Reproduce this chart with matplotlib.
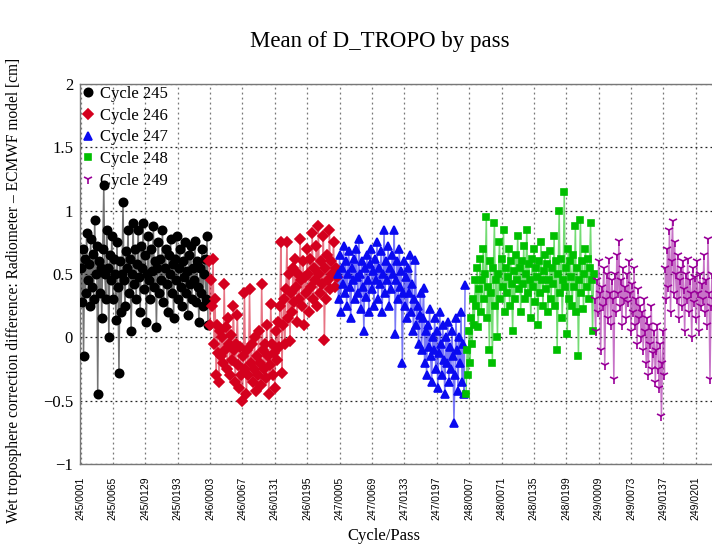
import numpy as np
import matplotlib
matplotlib.use("Agg")
import matplotlib.pyplot as plt
from matplotlib.lines import Line2D

# ---------------- data ----------------
cycles = ["Cycle 245", "Cycle 246", "Cycle 247", "Cycle 248", "Cycle 249"]
passes_per_cycle = 254
pass_step = 2

c245 = [0.55, 0.28, 0.7, -0.15, 0.62, 0.35, 0.82, 0.45, 0.58, 0.25, 0.78, 0.4, 0.66, 0.3, 0.93, 0.5,
        0.72, -0.45, 0.6, 0.35, 0.55, 0.15, 0.7, 1.2, 0.5, 0.3, 0.85, 0.55, 0.0, 0.65, 0.45, 0.8,
        0.3, 0.62, 0.5, 0.14, 0.75, 0.4, -0.28, 0.6, 0.2, 0.5, 1.07, 0.45, 0.25, 0.68, 0.55, 0.85,
        0.35, 0.62, 0.05, 0.5, 0.9, 0.42, 0.7, 0.3, 0.58, 0.85, 0.48, 0.2, 0.72, 0.55, 0.9, 0.38,
        0.65, 0.12, 0.5, 0.8, 0.45, 0.3, 0.7, 0.52, 0.88, 0.4, 0.6, 0.08, 0.55, 0.75, 0.35, 0.62,
        0.45, 0.85, 0.28, 0.55, 0.7, 0.42, 0.2, 0.65, 0.5, 0.78, 0.35, 0.58, 0.15, 0.62, 0.45, 0.8,
        0.3, 0.55, 0.7, 0.4, 0.25, 0.6, 0.48, 0.75, 0.35, 0.52, 0.18, 0.65, 0.42, 0.72, 0.3, 0.55,
        0.45, 0.76, 0.28, 0.6, 0.4, 0.12, 0.55, 0.35, 0.7, 0.25, 0.5, 0.62, 0.3, 0.8, 0.1]

c246 = [0.6, 0.1, 0.45, 0.25, 0.62, -0.05, 0.3, -0.3, 0.1, -0.12, -0.35, 0.05, -0.15, 0.0, -0.2, 0.42,
        -0.1, 0.08, -0.25, 0.15, -0.05, -0.3, 0.02, -0.18, 0.25, -0.1, -0.35, -0.05, 0.18, -0.22, -0.4, -0.08,
        -0.3, -0.5, -0.15, 0.35, -0.25, -0.45, -0.1, -0.3, 0.38, -0.2, -0.05, -0.35, -0.25, 0.0, -0.42, -0.15,
        -0.3, 0.05, -0.2, -0.38, 0.42, -0.1, -0.25, -0.05, -0.32, 0.1, -0.15, -0.45, -0.22, 0.26, -0.05, -0.3,
        -0.12, -0.4, 0.05, -0.18, 0.12, -0.08, 0.25, 0.75, -0.28, 0.1, 0.3, -0.05, 0.38, 0.75, 0.15, 0.5,
        -0.03, 0.35, 0.2, 0.55, 0.28, 0.62, 0.4, 0.12, 0.5, 0.3, 0.78, 0.45, 0.25, 0.6, 0.1, 0.48,
        0.35, 0.7, 0.5, 0.2, 0.62, 0.4, 0.82, 0.3, 0.55, 0.45, 0.72, 0.25, 0.88, 0.5, 0.35, 0.6,
        0.42, 0.8, -0.02, 0.55, 0.3, 0.65, 0.45, 0.85, 0.38, 0.6, 0.5, 0.75, 0.4, 0.55, 0.48]

c247 = [0.5, 0.3, 0.65, 0.2, 0.55, 0.42, 0.72, 0.35, 0.6, 0.25, 0.5, 0.68, 0.4, 0.15, 0.55, 0.45,
        0.62, 0.3, 0.7, 0.48, 0.35, 0.78, 0.5, 0.22, 0.6, 0.4, 0.05, 0.55, 0.32, 0.65, 0.45, 0.2,
        0.58, 0.7, 0.38, 0.52, 0.25, 0.62, 0.45, 0.75, 0.3, 0.55, 0.42, 0.68, 0.2, 0.5, 0.85, 0.35,
        0.6, 0.45, 0.72, 0.25, 0.55, 0.38, 0.65, 0.5, 0.85, 0.03, 0.45, 0.6, 0.3, 0.7, 0.4, 0.52,
        -0.2, 0.35, 0.6, 0.25, 0.48, 0.15, 0.55, 0.35, 0.65, 0.2, 0.42, 0.05, 0.3, 0.61, 0.1, 0.25,
        -0.05, 0.18, 0.35, -0.1, 0.15, 0.39, -0.2, 0.05, -0.3, 0.1, -0.08, 0.22, -0.15, -0.35, 0.0, -0.1,
        0.15, -0.25, 0.05, -0.4, -0.12, 0.2, -0.05, -0.3, 0.1, -0.18, -0.45, 0.0, -0.2, 0.12, -0.35, -0.08,
        -0.25, 0.05, -0.15, -0.68, -0.3, 0.15, -0.1, -0.42, 0.0, -0.2, 0.2, -0.35, -0.05, -0.45, 0.41]

c248 = [-0.45, -0.1, -0.3, 0.05, -0.2, 0.15, -0.05, 0.3, 0.1, 0.45, 0.25, 0.55, 0.08, 0.38, 0.62, 0.2,
        0.45, 0.7, 0.3, 0.5, 0.95, 0.15, 0.4, -0.1, 0.6, 0.35, -0.2, 0.55, 0.9, 0.25, 0.45, 0.0,
        0.5, 0.75, 0.3, 0.62, 0.4, 0.85, 0.2, 0.55, 0.35, 0.48, 0.7, 0.25, 0.6, 0.42, 0.05, 0.52,
        0.3, 0.65, 0.45, 0.8, 0.38, 0.55, 0.2, 0.6, 0.42, 0.72, 0.3, 0.5, 0.85, 0.35, 0.58, 0.45,
        0.15, 0.62, 0.4, 0.7, 0.28, 0.55, 0.48, 0.1, 0.6, 0.35, 0.75, 0.45, 0.25, 0.52, 0.65, 0.38,
        0.58, 0.2, 0.45, 0.68, 0.3, 0.55, 0.42, 0.8, 0.25, 0.6, -0.1, 0.5, 1.0, 0.35, 0.62, 0.15,
        0.45, 1.15, 0.4, 0.55, 0.03, 0.7, 0.3, 0.6, 0.48, 0.25, 0.65, 0.4, 0.88, 0.2, 0.55, -0.15,
        0.45, 0.93, 0.35, 0.6, 0.22, 0.5, 0.7, 0.4, 0.62, 0.3, 0.55, 0.9, 0.45, 0.05, 0.5]

c249 = [0.3, 0.05, 0.45, 0.2, 0.6, 0.35, -0.1, 0.4, 0.25, 0.55, -0.22, 0.3, 0.5, 0.15, 0.62, 0.35,
        0.1, 0.45, 0.3, -0.33, 0.5, 0.2, 0.65, 0.35, 0.76, 0.25, 0.45, 0.1, 0.55, 0.3, 0.4, 0.15,
        0.5, 0.28, 0.6, 0.35, 0.05, 0.42, 0.2, 0.55, 0.1, 0.3, -0.05, 0.38, 0.15, 0.25, 0.0, 0.2,
        -0.1, 0.3, 0.05, -0.2, 0.15, -0.3, 0.1, -0.05, 0.25, -0.25, -0.12, 0.05, -0.35, -0.1, 0.1, -0.25,
        -0.4, -0.05, -0.62, -0.2, 0.05, -0.3, 0.55, 0.3, 0.7, 0.4, 0.85, 0.2, 0.6, 0.92, 0.35, 0.75,
        0.5, 0.3, 0.65, 0.15, 0.45, 0.55, 0.25, 0.6, 0.38, 0.05, 0.5, 0.3, 0.62, 0.2, 0.45, 0.35,
        0.0, 0.55, 0.28, 0.48, 0.15, 0.6, 0.35, 0.05, 0.5, 0.25, 0.42, 0.3, 0.65, 0.2, 0.45, 0.1,
        0.78, 0.35, -0.33, 0.25, 0.5, 0.3]

series = [c245, c246, c247, c248, c249]

xtick_labels = ["245/0001", "245/0065", "245/0129", "245/0193",
                "246/0003", "246/0067", "246/0131", "246/0195",
                "247/0005", "247/0069", "247/0133", "247/0197",
                "248/0007", "248/0071", "248/0135", "248/0199",
                "249/0009", "249/0073", "249/0137", "249/0201"]
ytick_values = [-1, -0.5, 0, 0.5, 1, 1.5, 2]
ytick_labels = ["\u22121", "\u22120.5", "0", "0.5", "1", "1.5", "2"]

# ---------------- style ----------------
colors = ["#000000", "#d4001e", "#0a0af0", "#00bf00", "#990099"]
markers = ["o", "D", "^", "s", "1"]
msizes = [6.0, 4.8, 5.3, 5.0, 6.5]

serif = ["Liberation Serif", "DejaVu Serif"]
sans = ["Liberation Sans", "DejaVu Sans"]

fig = plt.figure(figsize=(7.12, 5.45), dpi=100)
ax = fig.add_axes([80 / 712, 1 - 464 / 545, 632 / 712, 380 / 545])

for i, (vals, col, mk, ms) in enumerate(zip(series, colors, markers, msizes)):
    x = i * passes_per_cycle + np.arange(len(vals)) * pass_step
    ax.plot(x, vals, color=col, lw=1.1, alpha=0.55, zorder=2)
    ax.plot(x, vals, ls="none", marker=mk, color=col, ms=ms, mew=1.2, zorder=3)

ax.set_xlim(-1, 1248)
ax.set_ylim(-1, 2)

ax.set_xticks(np.arange(len(xtick_labels)) * 64)
ax.set_xticklabels(xtick_labels, rotation=90, fontsize=7.5, family=sans)
ax.set_yticks(ytick_values)
ax.set_yticklabels(ytick_labels, fontsize=12, family=serif)
ax.tick_params(axis="x", length=0, pad=9)
ax.tick_params(axis="y", length=0, pad=5)

ax.xaxis.grid(True, ls=(0, (1.5, 2.5)), color="#777777", lw=0.9)
ax.yaxis.grid(True, ls=(0, (1.5, 2.5)), color="#222222", lw=0.9)
ax.set_axisbelow(True)

for s in ["left", "bottom", "top"]:
    ax.spines[s].set_color("#777777")
    ax.spines[s].set_linewidth(1.0)
ax.spines["right"].set_visible(False)

fig.text(380 / 712, 1 - 41 / 545, "Mean of D_TROPO by pass", ha="center", va="center",
         fontsize=16.5, family=serif)
fig.text(384 / 712, 1 - 536 / 545, "Cycle/Pass", ha="center", va="center",
         fontsize=12, family=serif)
fig.text(14 / 712, 1 - 290 / 545,
         "Wet troposphere correction difference: Radiometer \u2013 ECMWF model [cm]",
         ha="center", va="center", rotation=90, fontsize=11.2, family=serif)

handles = [Line2D([], [], ls="none", marker=m, color=c, ms=s, mew=1.2)
           for m, c, s in zip(markers, colors, msizes)]
leg = ax.legend(handles, cycles, loc="upper left", bbox_to_anchor=(0.0, 1.0),
                frameon=False, prop={"family": serif, "size": 12},
                handlelength=0.8, handletextpad=0.3, labelspacing=0.35,
                borderaxespad=0.0, borderpad=0.1)

fig.savefig("out.png", dpi=100)
